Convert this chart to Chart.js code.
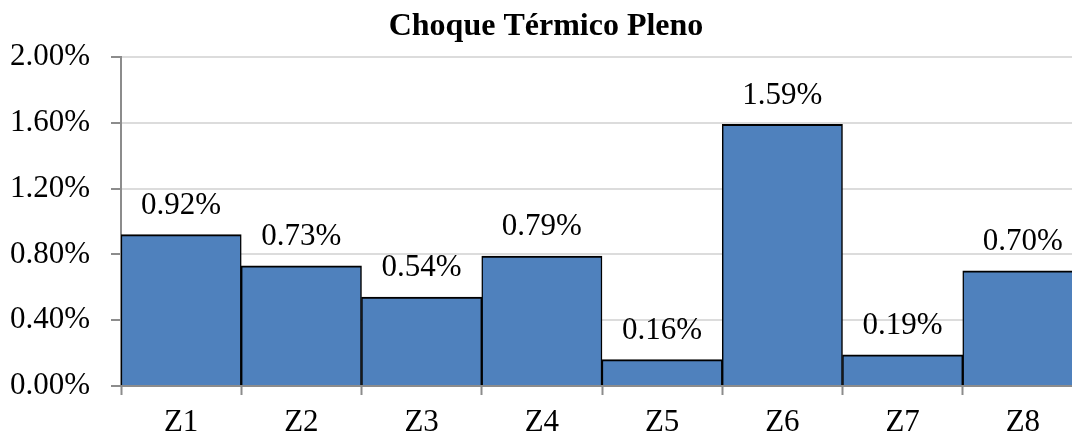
<!DOCTYPE html>
<html>
<head>
<meta charset="utf-8">
<script src="https://cdn.jsdelivr.net/npm/chart.js@4/dist/chart.umd.min.js"></script>
<style>
  html, body { margin: 0; padding: 0; background: #fff; overflow: hidden; }
  #wrap { width: 1072px; height: 435px; overflow: hidden; }
  canvas { display: block; }
</style>
</head>
<body>
<div id="wrap"><canvas id="c" width="1084" height="435"></canvas></div>
<script>
const chartTitle = 'Choque Térmico Pleno';
const categories = ['Z1', 'Z2', 'Z3', 'Z4', 'Z5', 'Z6', 'Z7', 'Z8'];
const values = [0.92, 0.73, 0.54, 0.79, 0.16, 1.59, 0.19, 0.70]; // percent
const yMin = 0, yMax = 2, yStep = 0.4;

const FONT = "'Liberation Serif', 'Times New Roman', serif";
const fmtPct = v => v.toFixed(2) + '%';

// Writes each bar's value just above its top edge
const valueLabels = {
  id: 'valueLabels',
  afterDatasetsDraw(chart) {
    const ctx = chart.ctx;
    const meta = chart.getDatasetMeta(0);
    ctx.save();
    ctx.font = '31px ' + FONT;
    ctx.fillStyle = '#000';
    ctx.textAlign = 'center';
    ctx.textBaseline = 'middle';
    meta.data.forEach((bar, i) => {
      ctx.fillText(fmtPct(values[i]), bar.x, bar.y - 29);
    });
    ctx.restore();
  }
};

new Chart(document.getElementById('c'), {
  type: 'bar',
  data: {
    labels: categories,
    datasets: [{
      data: values,
      backgroundColor: '#4F81BD',
      borderColor: '#000',
      borderWidth: { top: 2, left: 1.5, right: 1.5, bottom: 0 },
      borderSkipped: false,
      categoryPercentage: 1,
      barPercentage: 1
    }]
  },
  options: {
    responsive: false,
    animation: false,
    layout: { padding: { left: 9, right: 1, top: 0, bottom: 0 } },
    plugins: {
      legend: { display: false },
      tooltip: { enabled: false },
      title: {
        display: true,
        text: chartTitle,
        color: '#000',
        font: { family: FONT, size: 32, weight: 'bold', lineHeight: 1.2 },
        padding: { top: 7.8, bottom: 10.8 }
      }
    },
    scales: {
      x: {
        afterFit(scale) { scale.height = 49; },
        grid: {
          offset: true,
          drawOnChartArea: false,
          drawTicks: true,
          tickLength: 9,
          tickColor: '#8C8C8C',
          tickWidth: 2
        },
        border: { color: '#8C8C8C', width: 2 },
        ticks: { color: '#000', padding: 12, font: { family: FONT, size: 31, lineHeight: 1 } }
      },
      y: {
        min: yMin,
        max: yMax,
        afterFit(scale) { scale.width = 112; },
        grid: {
          color: '#DCDCDC',
          lineWidth: 2,
          tickLength: 10,
          tickColor: '#8C8C8C',
          tickWidth: 2
        },
        border: { color: '#8C8C8C', width: 2 },
        ticks: {
          stepSize: yStep,
          color: '#000',
          padding: 21,
          font: { family: FONT, size: 31 },
          callback: v => fmtPct(v)
        }
      }
    }
  },
  plugins: [valueLabels]
});
</script>
</body>
</html>
